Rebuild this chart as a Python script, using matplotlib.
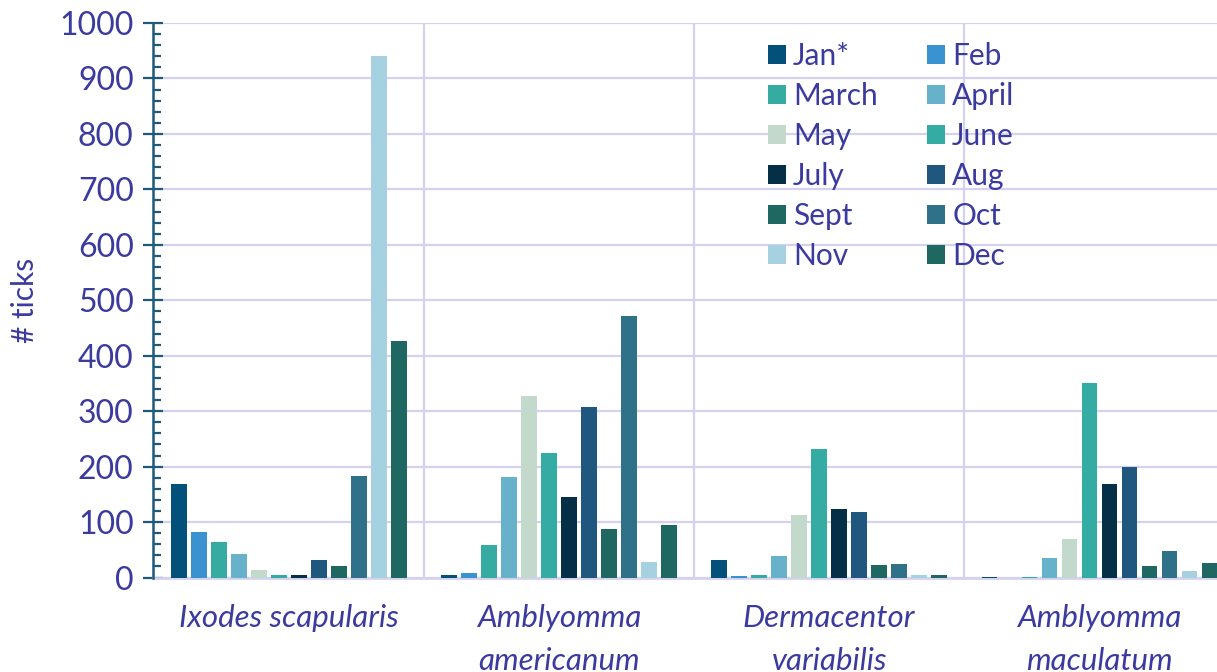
import matplotlib
matplotlib.use("Agg")
import matplotlib.pyplot as plt
from matplotlib.ticker import MultipleLocator
import numpy as np

species = ["Ixodes scapularis", "Amblyomma\namericanum", "Dermacentor\nvariabilis", "Amblyomma\nmaculatum"]
months = ["Jan*", "Feb", "March", "April", "May", "June", "July", "Aug", "Sept", "Oct", "Nov", "Dec"]
colors = ["#03507a", "#3a93d0", "#35aba2", "#67b1cb", "#c3d9cc", "#34aba3",
          "#042f47", "#20577e", "#1f6761", "#2f7189", "#a6d1e0", "#1f6761"]

ixodes_scapularis = [168, 82, 64, 42, 13, 5, 5, 32, 20, 183, 940, 427]
amblyomma_americanum = [5, 9, 59, 181, 328, 225, 145, 308, 88, 471, 28, 94]
dermacentor_variabilis = [31, 3, 4, 38, 113, 232, 124, 118, 23, 24, 5, 5]
amblyomma_maculatum = [1, 0, 1, 35, 70, 351, 168, 200, 21, 47, 12, 27]

data = np.array([ixodes_scapularis, amblyomma_americanum, dermacentor_variabilis, amblyomma_maculatum])

text_color = "#3b3a9e"
axis_color = "#1c5a78"
grid_color = "#d5d1f0"
font = "Lato"

fig = plt.figure(figsize=(12.17, 6.72), dpi=100)
ax = fig.add_axes([0.1261, 0.1406, 0.8884, 0.8252])

n_groups = len(species)
n_months = len(months)
pitch = 0.074
width = 0.059
centers = np.arange(n_groups) + 0.5
handles = []
for i, m in enumerate(months):
    b = ax.bar(centers + (i - (n_months - 1) / 2) * pitch, data[:, i], width=width,
               color=colors[i], label=m, zorder=3)
    handles.append(b)

ax.set_xlim(0, n_groups)
ax.set_ylim(0, 1000)

ax.yaxis.set_major_locator(MultipleLocator(100))
ax.yaxis.set_minor_locator(MultipleLocator(20))
ax.tick_params(axis="y", which="major", direction="inout", length=14.4, width=1.6,
               color=axis_color, labelsize=23, labelcolor=text_color, pad=7)
ax.tick_params(axis="y", which="minor", direction="in", length=5.8, width=1.6, color=axis_color)
for lab in ax.get_yticklabels():
    lab.set_fontfamily(font)

ax.set_xticks(centers)
ax.set_xticklabels(species, fontsize=22.5, color=text_color, fontstyle="italic",
                   family=font, linespacing=1.65, va="top")
ax.set_xticks(np.arange(1, n_groups), minor=True)
ax.tick_params(axis="x", which="both", length=0, pad=19)

ax.grid(True, axis="y", which="major", color=grid_color, lw=1.6, zorder=0)
ax.grid(True, axis="x", which="minor", color=grid_color, lw=1.6, zorder=0)
ax.set_axisbelow(True)

for s in ["top", "right"]:
    ax.spines[s].set_visible(False)
ax.spines["left"].set_color(axis_color)
ax.spines["left"].set_linewidth(1.8)
ax.spines["left"].set_zorder(4)
ax.spines["bottom"].set_color(grid_color)
ax.spines["bottom"].set_linewidth(2)

ax.set_ylabel("# ticks", fontsize=21.5, color=text_color, family=font, labelpad=15)

order = [0, 2, 4, 6, 8, 10, 1, 3, 5, 7, 9, 11]
leg = ax.legend([handles[k] for k in order], [months[k] for k in order],
                ncol=2, frameon=False, loc="upper left",
                bbox_to_anchor=(768 / 1217, 1 - 42 / 672), bbox_transform=fig.transFigure,
                prop={"family": font, "size": 21.5}, handlelength=0.6, handleheight=0.6,
                handletextpad=0.24, columnspacing=1.65, labelspacing=0.4,
                borderaxespad=0, borderpad=0)
for t in leg.get_texts():
    t.set_color(text_color)

fig.savefig("out.png", dpi=100)
